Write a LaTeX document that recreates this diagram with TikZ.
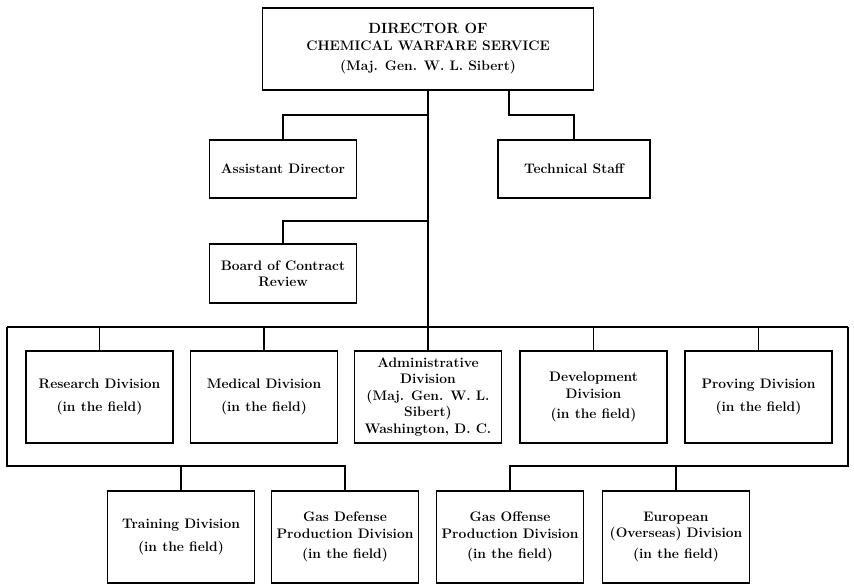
\documentclass[tikz,border=0pt]{standalone}
\usepackage{tikz}
\usetikzlibrary{positioning}

\begin{document}
\begin{tikzpicture}[x=1pt,y=-1pt,line width=1.7pt,
    unit/.style={draw, rectangle, align=center, inner sep=2pt,
      minimum width=147pt, font=\fontsize{13.8}{16.5}\selectfont\bfseries}]
      \useasboundingbox (0,0) rectangle (854,584);
      % top of the chart
      \node[unit, minimum width=331pt, minimum height=82pt] at (428,49) (dir)
        {\fontsize{14.8}{17}\selectfont DIRECTOR OF\\CHEMICAL WARFARE SERVICE\\[4pt]\fontsize{13.8}{16.5}\selectfont (Maj. Gen. W. L. Sibert)};
      \node[unit, minimum height=58pt] at (283,169) (asst) {Assistant Director};
      \node[unit, minimum width=152pt, minimum height=58pt] at (574,169) (tech) {Technical Staff};
      \node[unit, minimum height=59pt] at (283,273.5) (board) {Board of Contract\\Review};
      % divisions, first row
      \node[unit, minimum height=92pt] at (99.5,397) (research) {Research Division\\[6pt](in the field)};
      \node[unit, minimum height=92pt] at (264,397) (medical) {Medical Division\\[6pt](in the field)};
      \node[unit, minimum height=92pt] at (428,397) (admin) {Administrative\\Division\\(Maj. Gen. W. L.\\Sibert)\\Washington, D. C.};
      \node[unit, minimum height=92pt] at (593.5,397) (develop) {Development\\Division\\[4pt](in the field)};
      \node[unit, minimum height=92pt] at (758.5,397) (proving) {Proving Division\\[6pt](in the field)};
      % divisions, second row
      \node[unit, minimum height=92pt] at (181,537) (training) {Training Division\\[6pt](in the field)};
      \node[unit, minimum height=92pt] at (345,537) (gasdef) {Gas Defense\\Production Division\\[4pt](in the field)};
      \node[unit, minimum height=92pt] at (510,537) (gasoff) {Gas Offense\\Production Division\\[4pt](in the field)};
      \node[unit, minimum height=92pt] at (676,537) (europe) {European\\(Overseas) Division\\[4pt](in the field)};
      % junctions
      \coordinate (ja) at (428,115);
      \coordinate (jt) at (509,115);
      \coordinate (jb) at (428,221);
      \coordinate (busl) at (7,327);
      \coordinate (busr) at (848,327);
      \coordinate (lowl) at (7,466);
      \coordinate (lowr) at (848,466);
      % connectors
      \draw (dir.south) -- (admin.north);
      \draw (ja) -| (asst.north);
      \draw (jt |- dir.south) -- (jt) -| (tech.north);
      \draw (jb) -| (board.north);
      \draw (busl) -- (busr);
      \draw (busl) -- (lowl) -| (gasdef.north);
      \draw (busr) -- (lowr) -| (gasoff.north);
      \foreach \n in {research,medical,develop,proving}
        \draw (\n.north) -- (\n.north |- busl);
      \draw (training.north) -- (training.north |- lowl);
      \draw (europe.north) -- (europe.north |- lowr);
\end{tikzpicture}
\end{document}
